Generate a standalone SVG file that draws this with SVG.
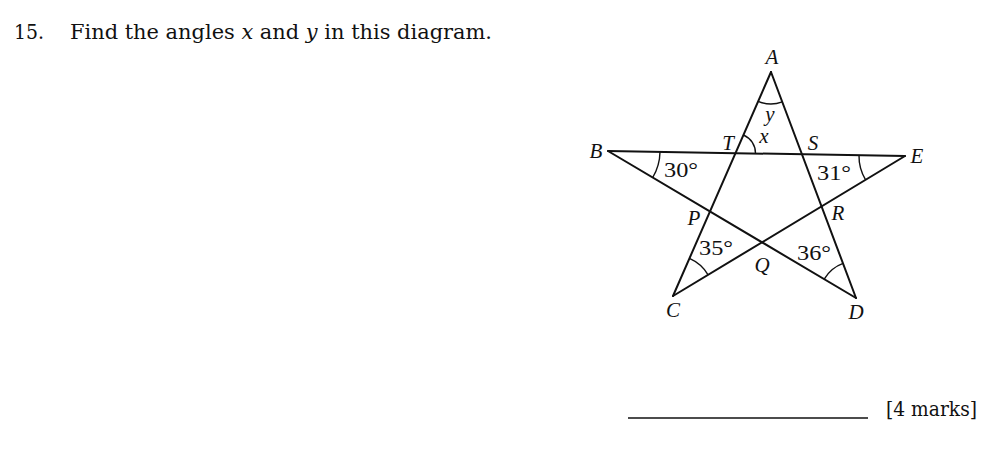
<svg xmlns="http://www.w3.org/2000/svg" width="1003" height="449" viewBox="0 0 1003 449">
<style>
.t{font-family:"DejaVu Serif","Liberation Serif",serif;font-size:20px;fill:#111}
.l{font-family:"Liberation Serif","DejaVu Serif",serif;font-size:21px;font-style:italic;fill:#111}
.d{font-family:"Liberation Serif","DejaVu Serif",serif;font-size:21px;fill:#111}
.ln{stroke:#111;stroke-width:2;fill:none;stroke-linecap:round}
.arc{stroke:#111;stroke-width:1.4;fill:none}
</style>
<rect width="1003" height="449" fill="#fff"/>
<g id="question">
<text class="t" x="14" y="39" textLength="30" lengthAdjust="spacingAndGlyphs">15.</text>
<text class="t" x="70" y="39" textLength="422" lengthAdjust="spacingAndGlyphs">Find the angles <tspan font-style="italic">x</tspan> and <tspan font-style="italic">y</tspan> in this diagram.</text>
</g>
<g id="connectors">
<line class="ln" x1="771" y1="72" x2="673" y2="296"/>
<line class="ln" x1="771" y1="72" x2="856" y2="298"/>
<line class="ln" x1="608" y1="151" x2="905" y2="156"/>
<line class="ln" x1="608" y1="151" x2="856" y2="298"/>
<line class="ln" x1="673" y1="296" x2="905" y2="156"/>
</g>
<g id="angles">
<path class="arc" d="M758.2,101.3 A32,32 0 0 0 782.3,101.9"/>
<path class="arc" d="M743.5,135 A20,20 0 0 1 755.5,153.6"/>
<path class="arc" d="M660,151.9 A52,52 0 0 1 652.7,177.5"/>
<path class="arc" d="M859,155.2 A46,46 0 0 0 865.6,179.8"/>
<path class="arc" d="M689.4,258.4 A41,41 0 0 1 708.1,274.8"/>
<path class="arc" d="M843,263.4 A37,37 0 0 0 824.2,279.1"/>
</g>
<g id="node-A"><text class="l" x="772" y="64" text-anchor="middle">A</text></g>
<g id="node-B"><text class="l" x="596" y="158" text-anchor="middle">B</text></g>
<g id="node-E"><text class="l" x="917" y="163" text-anchor="middle">E</text></g>
<g id="node-C"><text class="l" x="673" y="317" text-anchor="middle">C</text></g>
<g id="node-D"><text class="l" x="856" y="319" text-anchor="middle">D</text></g>
<g id="node-T"><text class="l" x="728" y="150" text-anchor="middle">T</text></g>
<g id="node-S"><text class="l" x="813" y="150" text-anchor="middle">S</text></g>
<g id="node-P"><text class="l" x="694" y="225" text-anchor="middle">P</text></g>
<g id="node-R"><text class="l" x="838" y="220" text-anchor="middle">R</text></g>
<g id="node-Q"><text class="l" x="762" y="272" text-anchor="middle">Q</text></g>
<g id="labels">
<text class="l" x="770" y="121" text-anchor="middle">y</text>
<text class="l" x="764" y="143" text-anchor="middle">x</text>
<text class="d" x="681" y="177" text-anchor="middle" textLength="34" lengthAdjust="spacingAndGlyphs">30°</text>
<text class="d" x="834" y="180" text-anchor="middle" textLength="34" lengthAdjust="spacingAndGlyphs">31°</text>
<text class="d" x="716" y="255" text-anchor="middle" textLength="34" lengthAdjust="spacingAndGlyphs">35°</text>
<text class="d" x="814" y="260" text-anchor="middle" textLength="34" lengthAdjust="spacingAndGlyphs">36°</text>
</g>
<g id="answer">
<line x1="628" y1="418" x2="868" y2="418" stroke="#111" stroke-width="1.3"/>
<text class="t" x="886" y="416" textLength="91" lengthAdjust="spacingAndGlyphs">[4 marks]</text>
</g>
</svg>
